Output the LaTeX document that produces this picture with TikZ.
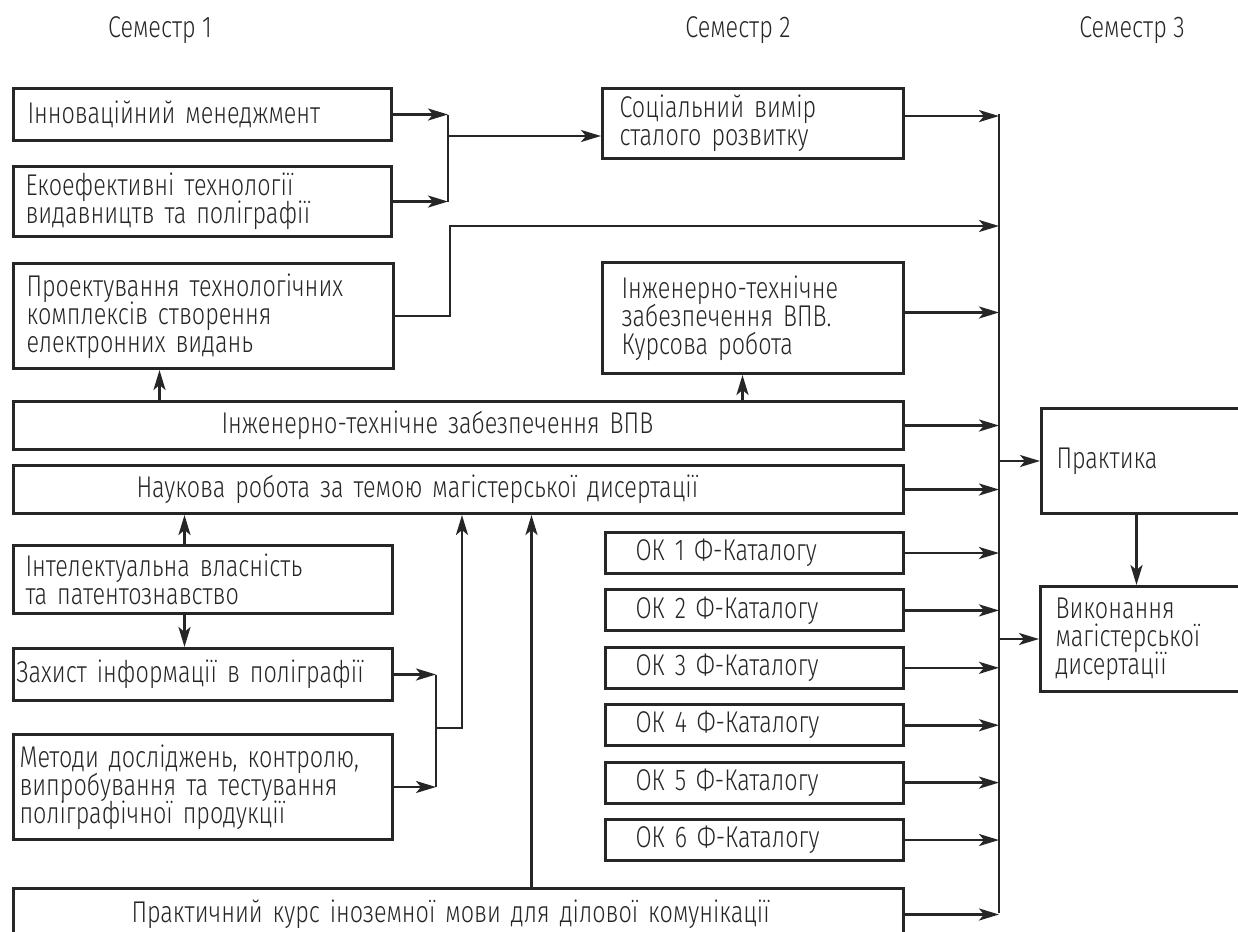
\documentclass[tikz,border=0pt]{standalone}
\usepackage{fontspec}
\setmainfont{Fira Sans}[UprightFont=* Light, FakeStretch=0.78]
\usetikzlibrary{arrows.meta}
\definecolor{ink}{HTML}{262626}
\tikzset{
  blk/.style={draw=ink, line width=1.5pt, anchor=north west, align=left, text=ink},
  arr/.style={draw=ink, line width=1.3pt, -{Stealth[length=10pt,width=6pt,inset=2.5pt]}},
  ln/.style={draw=ink, line width=1.3pt},
  txt/.style={text=ink}
}
\begin{document}
\begin{tikzpicture}[x=0.5pt,y=-0.5pt,font={\fontsize{15}{14}\selectfont\lineskiplimit=-20pt}]
\useasboundingbox (0,0) rectangle (1238,932);
\node[txt] (sem1) at (160,30) {Семестр 1};
\node[txt] (sem2) at (738,30) {Семестр 2};
\node[txt] (sem3) at (1132,30) {Семестр 3};
\node[blk, inner xsep=7pt, text width=175pt, minimum height=26pt] (innov) at (12,87) {Інноваційний менеджмент};
\node[blk, inner xsep=6pt, text width=177pt, minimum height=34pt] (eco) at (12,165) {Екоефективні технології\\видавництв та поліграфії};
\node[blk, inner xsep=6.5pt, text width=177pt, minimum height=52.5pt] (proj) at (12,262) {Проектування технологічних\\комплексів створення\\електронних видань};
\node[blk, inner xsep=8.5pt, text width=133.5pt, minimum height=34.5pt] (soc) at (601,87) {Соціальний вимір\\сталого розвитку};
\node[blk, inner xsep=9.5pt, text width=131.5pt, minimum height=55.5pt] (kurs) at (601,261) {Інженерно-технічне\\забезпечення ВПВ.\\Курсова робота};
\node[blk, inner xsep=104pt, text width=237pt, minimum height=24pt] (vpv) at (12,400) {Інженерно-технічне забезпечення ВПВ};
\node[blk, inner xsep=61.5pt, text width=322pt, minimum height=24pt] (nauk) at (12,464) {Наукова робота за темою магістерської дисертації};
\node[blk, inner xsep=6pt, text width=177.5pt, minimum height=34pt] (intel) at (12,544) {Інтелектуальна власність\\та патентознавство};
\node[blk, inner xsep=1.5pt, text width=186.5pt, minimum height=26pt] (zakh) at (12,647) {Захист інформації в поліграфії};
\node[blk, inner xsep=3pt, text width=183.5pt, minimum height=52.5pt] (metod) at (12,733) {Методи досліджень, контролю,\\випробування та тестування\\поліграфічної продукції};
\node[blk, inner xsep=59pt, text width=327pt, minimum height=26pt] (mova) at (12,887) {Практичний курс іноземної мови для ділової комунікації};
\foreach \i in {1,...,6}
  \node[blk, inner xsep=15pt, text width=119pt, minimum height=20pt] (ok\i) at (604,{531+57.4*(\i-1)}) {ОК \i\ Ф-Каталогу};
\node[blk, inner xsep=7.5pt, text width=95pt, minimum height=52.5pt] (prakt) at (1040,407) {Практика};
\node[blk, inner xsep=7.5pt, text width=95pt, minimum height=52.5pt] (vykon) at (1039,585) {Виконання\\магістерської\\дисертації};
\coordinate (m1) at (448,136);
\coordinate (p1) at (450,226);
\coordinate (m2) at (436,728);
\coordinate (m3) at (462,728);
\coordinate (busT) at (999,114);
\coordinate (busB) at (999,913);
\draw[arr] (innov.east) -- (innov.east -| m1);
\draw[arr] (eco.east) -- (eco.east -| m1);
\draw[ln] (innov.east -| m1) -- (eco.east -| m1);
\draw[arr] (m1) -- (soc.west |- m1);
\draw[arr] (proj.east) -| (p1) -- (p1 -| busT);
\draw[arr] ([yshift=3.75pt]soc.east) -- ([yshift=3.75pt]soc.east -| busT);
\draw[arr] ([yshift=2.75pt]kurs.east) -- ([yshift=2.75pt]kurs.east -| busT);
\draw[arr] (vpv.east) -- (vpv.east -| busT);
\draw[arr] (nauk.east) -- (nauk.east -| busT);
\foreach \i in {1,...,6} \draw[arr] (ok\i.east) -- (ok\i.east -| busT);
\draw[arr] (mova.east) -- (mova.east -| busT);
\draw[ln] (busT) -- (busB);
\draw[arr] (prakt.west -| busT) -- (prakt.west);
\draw[arr] (vykon.west -| busT) -- (vykon.west);
\draw[arr] ([xshift=-7.5pt]prakt.south) -- ([xshift=-7.5pt]prakt.south |- vykon.north);
\draw[arr] ([xshift=-22pt]proj.south |- vpv.north) -- ([xshift=-22pt]proj.south);
\draw[arr] ([xshift=-5.25pt]kurs.south |- vpv.north) -- ([xshift=-5.25pt]kurs.south);
\draw[arr] ([xshift=-9.25pt]intel.north) -- ([xshift=-9.25pt]intel.north |- nauk.south);
\draw[arr] ([xshift=-9.25pt]intel.south) -- ([xshift=-9.25pt]intel.south |- zakh.north);
\draw[arr] (zakh.east) -- (zakh.east -| m2);
\draw[arr] (metod.east) -- (metod.east -| m2);
\draw[ln] (zakh.east -| m2) -- (metod.east -| m2);
\draw[arr] (m2) -- (m3) -- (m3 |- nauk.south);
\draw[arr] ([xshift=36.5pt]mova.north) -- ([xshift=36.5pt]mova.north |- nauk.south);
\end{tikzpicture}
\end{document}
